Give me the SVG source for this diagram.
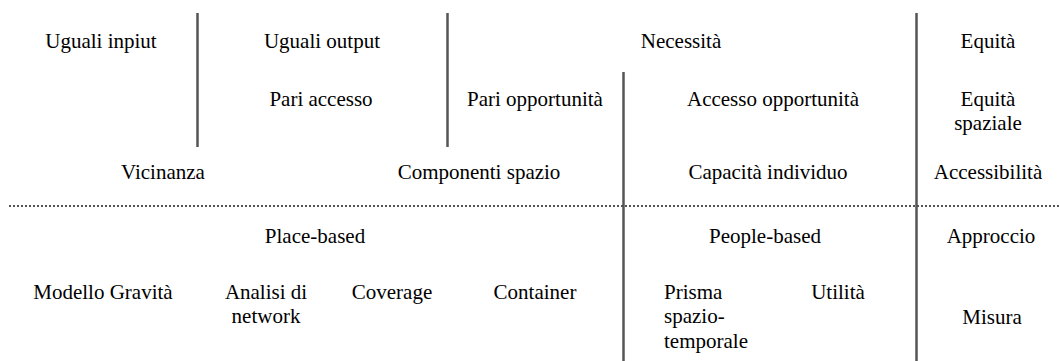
<svg xmlns="http://www.w3.org/2000/svg" width="1059" height="361" viewBox="0 0 1059 361">
  <style>
    text { font-family: "Liberation Serif", "Times New Roman", serif; font-size: 21px; fill: #000; text-anchor: middle; }
    .left { text-anchor: start; }
    .rule { stroke: #555; stroke-width: 2.5; fill: none; }
    .dots { stroke: #555; stroke-width: 2; stroke-dasharray: 2 2; fill: none; }
  </style>
  <rect width="1059" height="361" fill="#fff"/>

  <!-- separators -->
  <g id="connectors">
    <line class="rule" x1="197.5" y1="13" x2="197.5" y2="147"/>
    <line class="rule" x1="447.5" y1="13" x2="447.5" y2="147"/>
    <line class="rule" x1="623.5" y1="72" x2="623.5" y2="361"/>
    <line class="rule" x1="916.5" y1="13" x2="916.5" y2="361"/>
    <line class="dots" x1="9" y1="206" x2="1059" y2="206"/>
  </g>

  <!-- upper block: concepts -->
  <g id="uguali-input"><text x="101" y="48">Uguali inpiut</text></g>
  <g id="uguali-output"><text x="322" y="48">Uguali output</text></g>
  <g id="necessita"><text x="681" y="48">Necessità</text></g>
  <g id="equita"><text x="988" y="48">Equità</text></g>

  <g id="pari-accesso"><text x="321" y="106">Pari accesso</text></g>
  <g id="pari-opportunita"><text x="535" y="106">Pari opportunità</text></g>
  <g id="accesso-opportunita"><text x="773" y="106">Accesso opportunità</text></g>
  <g id="equita-spaziale"><text x="988" y="106">Equità</text><text x="988" y="130">spaziale</text></g>

  <g id="vicinanza"><text x="163" y="179">Vicinanza</text></g>
  <g id="componenti-spazio"><text x="479" y="179">Componenti spazio</text></g>
  <g id="capacita-individuo"><text x="768" y="179">Capacità individuo</text></g>
  <g id="accessibilita"><text x="988" y="179">Accessibilità</text></g>

  <!-- lower block: approaches and measures -->
  <g id="place-based"><text x="315" y="243">Place-based</text></g>
  <g id="people-based"><text x="765" y="243">People-based</text></g>
  <g id="approccio"><text x="991" y="243">Approccio</text></g>

  <g id="modello-gravita"><text x="103" y="299">Modello Gravità</text></g>
  <g id="analisi-network"><text x="266" y="299">Analisi di</text><text x="266" y="323">network</text></g>
  <g id="coverage"><text x="392" y="299">Coverage</text></g>
  <g id="container"><text x="535" y="299">Container</text></g>
  <g id="prisma"><text class="left" x="664" y="299">Prisma</text><text class="left" x="664" y="323">spazio-</text><text class="left" x="664" y="348">temporale</text></g>
  <g id="utilita"><text x="838" y="299">Utilità</text></g>
  <g id="misura"><text x="992" y="324">Misura</text></g>
</svg>
